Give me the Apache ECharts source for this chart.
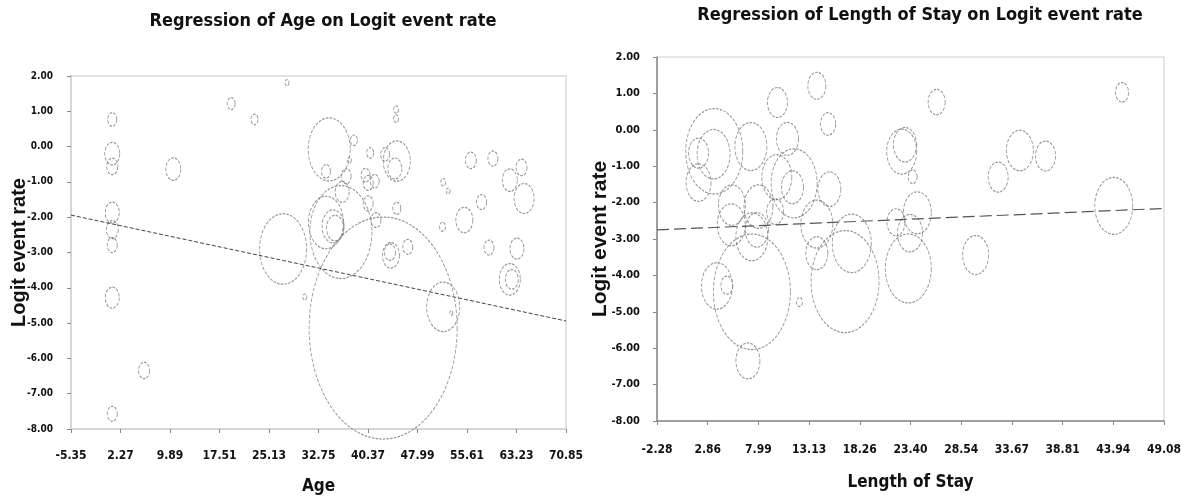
<!DOCTYPE html>
<html><head><meta charset="utf-8">
<script src="https://cdn.jsdelivr.net/npm/echarts@6/dist/echarts.min.js"></script>
<style>html,body{margin:0;padding:0;background:#fff}#c{width:1182px;height:501px}</style>
</head><body><div id="c"></div>
<script>
// ---- tick labels ----
const ageTicks = [-5.35, 2.27, 9.89, 17.51, 25.13, 32.75, 40.37, 47.99, 55.61, 63.23, 70.85];
const losTicks = [-2.28, 2.86, 7.99, 13.13, 18.26, 23.40, 28.54, 33.67, 38.81, 43.94, 49.08];
const logitTicks = [-8, -7, -6, -5, -4, -3, -2, -1, 0, 1, 2];

// ---- Age chart (x = age, y = logit event rate, weight = study weight) ----
const ageX = [1.0, 1.0, 1.0, 1.0, 1.0, 1.0, 10.4, 19.3, 22.9, 27.9, 27.3, 1.0, 5.9, 1.0,
  34.4, 33.9, 38.2, 37.5, 37.0, 36.4, 44.7, 44.7, 40.7, 43.0, 44.8, 44.5, 40.0, 40.4, 41.4,
  51.95, 52.7, 56.2, 59.6, 62.2, 64.0, 64.4, 57.85, 55.2, 51.85, 44.8, 59.0, 63.3, 62.2, 62.5,
  36.2, 33.9, 35.0, 35.3, 40.4, 41.6, 46.5, 43.75, 43.9, 42.7, 51.95, 53.2, 30.65];
const ageY = [0.77, -0.20, -0.56, -1.87, -2.35, -2.79, -0.64, 1.22, 0.77, 1.81, -2.90, -4.28, -6.34, -7.57,
  -0.08, -0.70, 0.18, -0.39, -0.84, -1.28, 1.05, 0.79, -0.18, -0.22, -0.41, -0.62, -0.81, -1.03, -0.98,
  -1.01, -1.26, -0.39, -0.34, -0.95, -0.59, -1.47, -1.57, -2.08, -2.27, -1.75, -2.86, -2.89, -3.76, -3.76,
  -2.42, -2.15, -2.26, -2.31, -1.61, -2.08, -2.84, -2.99, -3.08, -5.14, -4.54, -4.71, -4.26];
const ageWeight = [0.81, 2.25, 1.21, 1.96, 1.44, 1.00, 2.25, 0.64, 0.49, 0.16, 22.09, 1.96, 1.21, 1.00,
  17.64, 0.81, 0.49, 0.16, 1.00, 1.96, 0.25, 0.25, 0.49, 0.81, 7.29, 1.96, 0.81, 1.00, 0.81,
  0.25, 0.16, 1.21, 1.00, 2.25, 1.21, 4.00, 1.00, 2.89, 0.36, 0.64, 1.00, 1.96, 4.41, 1.69,
  38.44, 12.25, 4.84, 2.89, 1.00, 1.00, 1.00, 1.21, 2.89, 219.04, 10.89, 0.09, 0.16];
const ageRegX = [-5.35, 70.85];
const ageRegY = [-1.94, -4.94];

// ---- Length of stay chart ----
const losX = [3.52, 3.45, 1.93, 1.93, 7.23, 9.92, 13.91, 15.05, 10.93, 11.61, 9.86, 11.44, 15.18,
  22.51, 22.84, 23.62, 26.05, 34.48, 37.08, 32.28, 44.83, 43.99, 24.09, 21.93, 23.35, 23.18, 30.0,
  16.77, 17.45, 13.91, 13.91, 7.33, 3.79, 4.80, 12.15, 6.93, 5.24, 7.33, 7.84, 9.69, 8.0, 5.31];
const losY = [-0.59, -0.67, -0.64, -1.45, -0.46, 0.75, 1.21, 0.16, -0.25, -1.47, -1.30, -1.58, -1.63,
  -0.60, -0.41, -1.29, 0.76, -0.57, -0.72, -1.30, 1.03, -2.09, -2.28, -2.54, -2.84, -3.81, -3.44,
  -4.17, -3.12, -3.39, -2.59, -4.45, -4.29, -4.27, -4.73, -6.35, -2.61, -2.94, -2.75, -2.25, -2.11, -2.07];
const losWeight = [32.49, 10.89, 4.00, 6.25, 10.24, 4.00, 3.24, 2.25, 4.84, 21.16, 9.00, 4.84, 5.29,
  9.00, 5.29, 0.81, 2.89, 7.29, 4.00, 4.00, 1.69, 14.44, 7.84, 3.24, 6.25, 21.16, 6.76,
  46.24, 15.21, 4.84, 10.24, 59.29, 9.61, 1.44, 0.36, 5.76, 7.84, 10.24, 5.29, 2.89, 8.41, 7.29];
const losRegX = [-2.28, 49.08];
const losRegY = [-2.75, -2.16];

// ---- build ----
const narrow = "'Liberation Sans Narrow', 'DejaVu Sans Condensed', Arial, sans-serif";
const wide = "'Liberation Sans', Arial, sans-serif";
function bubbles(xs, ys, ws) {
  return xs.map((x, i) => {
    const w = 10 * Math.sqrt(ws[i]);
    return { value: [x, ys[i]], symbolSize: [w, w * 1.5] };
  });
}
const fmt = v => (Math.abs(v) < 1e-9 ? 0 : v).toFixed(2);

function xAxisCfg(gi, ticks, name, gap, margin, lineColor, lineW) {
  return {
    type: 'value', gridIndex: gi, min: ticks[0], max: ticks[ticks.length - 1],
    name: name, nameLocation: 'middle', nameGap: gap, nameMoveOverlap: false,
    nameTextStyle: { fontFamily: narrow, fontWeight: 'bold', fontSize: 17, color: '#111' },
    axisLine: { show: true, onZero: false, lineStyle: { color: lineColor, width: lineW } },
    axisTick: { show: true, length: 4, customValues: ticks, lineStyle: { color: '#888' } },
    axisLabel: { customValues: ticks, formatter: fmt, margin: margin, fontFamily: narrow, fontWeight: 'bold', fontSize: 12, color: '#111' },
    splitLine: { show: false }
  };
}
function yAxisCfg(gi, gap, margin, labelSize, nameSize, lineColor, lineW) {
  return {
    type: 'value', gridIndex: gi, min: logitTicks[0], max: logitTicks[logitTicks.length - 1], interval: 1,
    name: 'Logit event rate', nameLocation: 'middle', nameGap: gap, nameMoveOverlap: false,
    nameTextStyle: { fontFamily: wide, fontWeight: 'bold', fontSize: nameSize, color: '#111' },
    axisLine: { show: true, onZero: false, lineStyle: { color: lineColor, width: lineW } },
    axisTick: { show: true, length: 4, lineStyle: { color: '#888' } },
    axisLabel: { formatter: fmt, margin: margin, fontFamily: narrow, fontWeight: 'bold', fontSize: labelSize, color: '#111' },
    splitLine: { show: false }
  };
}
const bubbleStyle = { color: 'rgba(0,0,0,0)', borderColor: '#777', borderWidth: 1, borderType: [3, 1.5] };

const option = {
  backgroundColor: '#fff',
  animation: false,
  title: [
    { text: 'Regression of Age on Logit event rate', left: 318, top: 7, textAlign: 'center',
      textStyle: { fontFamily: narrow, fontWeight: 'bold', fontSize: 18, color: '#111' } },
    { text: 'Regression of Length of Stay on Logit event rate', left: 915, top: 1, textAlign: 'center',
      textStyle: { fontFamily: narrow, fontWeight: 'bold', fontSize: 18, color: '#111' } }
  ],
  grid: [
    { left: 71, top: 76, width: 495, height: 353, show: true, borderColor: '#e2e2e2', borderWidth: 2,
      containLabel: false, outerBoundsMode: 'none' },
    { left: 657, top: 57, width: 507, height: 364, show: true, borderColor: '#cfcfcf', borderWidth: 1,
      containLabel: false, outerBoundsMode: 'none' }
  ],
  xAxis: [
    xAxisCfg(0, ageTicks, 'Age', 49, 21, '#d6d6d6', 2),
    xAxisCfg(1, losTicks, 'Length of Stay', 53, 23, '#888', 1.5)
  ],
  yAxis: [
    yAxisCfg(0, 42, 18, 10, 20, '#d6d6d6', 2),
    yAxisCfg(1, 46, 17, 11, 21, '#888', 1.5)
  ],
  series: [
    { type: 'scatter', xAxisIndex: 0, yAxisIndex: 0, symbol: 'circle', data: bubbles(ageX, ageY, ageWeight),
      itemStyle: bubbleStyle, silent: true },
    { type: 'line', xAxisIndex: 0, yAxisIndex: 0, symbol: 'none', data: ageRegX.map((x, i) => [x, ageRegY[i]]),
      lineStyle: { color: '#444', width: 1, type: [4, 2] }, silent: true },
    { type: 'scatter', xAxisIndex: 1, yAxisIndex: 1, symbol: 'circle', data: bubbles(losX, losY, losWeight),
      itemStyle: bubbleStyle, silent: true },
    { type: 'line', xAxisIndex: 1, yAxisIndex: 1, symbol: 'none', data: losRegX.map((x, i) => [x, losRegY[i]]),
      lineStyle: { color: '#555', width: 1.2, type: [12, 5] }, silent: true }
  ]
};
const chart = echarts.init(document.getElementById('c'), null, { renderer: 'canvas' });
chart.setOption(option);
</script></body></html>
